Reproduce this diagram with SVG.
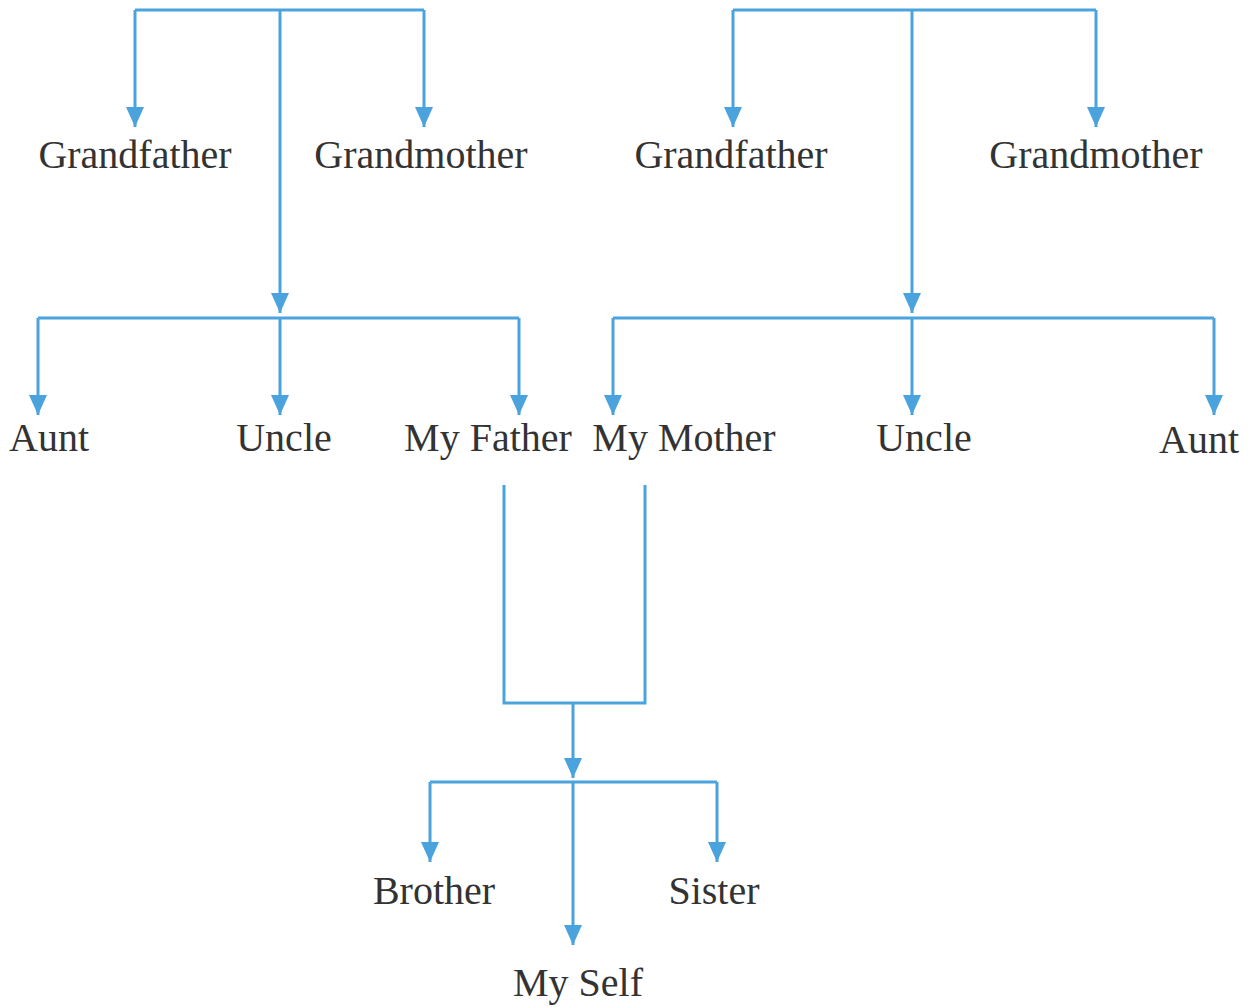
<svg xmlns="http://www.w3.org/2000/svg" width="1249" height="1007" viewBox="0 0 1249 1007">
<defs>
<marker id="a" markerUnits="userSpaceOnUse" markerWidth="20" markerHeight="18" viewBox="0 0 20 18" refX="20" refY="9" orient="auto">
<path d="M0,0 L20,9 L0,18 Z" fill="#4aa3dc"/>
</marker>
</defs>
<style>
.c{fill:none;stroke:#4aa3dc;stroke-width:3;stroke-linejoin:miter}
.ar{marker-end:url(#a)}
text{font-family:"Liberation Serif","Times New Roman",serif;font-size:40px;fill:#333;text-anchor:middle}
</style>
<rect width="1249" height="1007" fill="#fff"/>
<g id="connectors">
<path class="c" d="M135,10 H424"/>
<path class="c ar" d="M135,10 V127"/>
<path class="c ar" d="M424,10 V127"/>
<path class="c ar" d="M280,10 V313"/>
<path class="c" d="M733,10 H1096"/>
<path class="c ar" d="M733,10 V127"/>
<path class="c ar" d="M1096,10 V127"/>
<path class="c ar" d="M912,10 V313"/>
<path class="c" d="M38,318 H519"/>
<path class="c ar" d="M38,318 V415"/>
<path class="c ar" d="M280,318 V415"/>
<path class="c ar" d="M519,318 V415"/>
<path class="c" d="M613,318 H1214"/>
<path class="c ar" d="M613,318 V415"/>
<path class="c ar" d="M912,318 V415"/>
<path class="c ar" d="M1214,318 V415"/>
<path class="c" d="M504,485 V703 H645 V485"/>
<path class="c ar" d="M573,703 V778"/>
<path class="c" d="M430,782 H717"/>
<path class="c ar" d="M430,782 V862"/>
<path class="c ar" d="M717,782 V862"/>
<path class="c ar" d="M573,782 V945"/>
</g>
<g id="pgf"><text x="135" y="168">Grandfather</text></g>
<g id="pgm"><text x="421" y="168">Grandmother</text></g>
<g id="mgf"><text x="731" y="168">Grandfather</text></g>
<g id="mgm"><text x="1096" y="168">Grandmother</text></g>
<g id="paunt"><text x="49" y="451">Aunt</text></g>
<g id="puncle"><text x="284" y="451">Uncle</text></g>
<g id="father"><text x="488" y="451">My Father</text></g>
<g id="mother"><text x="684" y="451">My Mother</text></g>
<g id="muncle"><text x="924" y="451">Uncle</text></g>
<g id="maunt"><text x="1199" y="453">Aunt</text></g>
<g id="brother"><text x="434" y="904">Brother</text></g>
<g id="sister"><text x="714" y="904">Sister</text></g>
<g id="self"><text x="578" y="996">My Self</text></g>
</svg>
